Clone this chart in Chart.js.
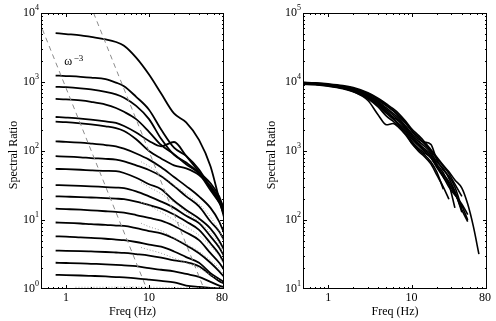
<!DOCTYPE html>
<html>
<head>
<meta charset="utf-8">
<script src="https://cdn.jsdelivr.net/npm/chart.js@4"></script>
<style>
  body { margin: 0; background: #fff; }
  #wrap { position: relative; width: 496px; height: 321px; }
  canvas { position: absolute; top: 0; }
</style>
</head>
<body>
<div id="wrap">
  <canvas id="leftChart" width="248" height="321" style="left:0"></canvas>
  <canvas id="rightChart" width="248" height="321" style="left:248px"></canvas>
</div>
<script>
// ---- left panel: spectral ratios, stacked ----
const leftFreq = [0.75, 1, 1.5, 2, 3, 4, 5, 7, 10, 14, 20, 28, 40, 55, 70, 80];
const leftCurves = [
  [5100, 4950, 4750, 4500, 4150, 3800, 3350, 2250, 1280, 680, 350, 260, 145, 60, 20, 11],
  [1240, 1220, 1190, 1160, 1100, 980, 870, 610, 397, 205, 112, 85, 54, 29, 18, 12],
  [850, 840, 810, 780, 720, 660, 590, 450, 290, 150, 88, 68, 48, 30, 20, 15],
  [568, 560, 540, 515, 470, 420, 370, 290, 190, 122, 90, 64, 47, 27, 18, 14],
  [311, 305, 295, 285, 268, 255, 230, 185, 140, 117, 135, 85, 50, 34, 22, 14],
  [266, 262, 252, 243, 228, 215, 195, 148, 100, 78, 62, 56, 45, 31, 20, 12],
  [138, 136, 132, 128, 122, 117, 108, 92, 75, 58, 42, 31, 22, 15, 9.5, 6.5],
  [84, 83, 81, 79, 77, 75, 71, 62, 53, 43, 31, 22, 15.7, 9.5, 6.8, 5.1],
  [55, 54.5, 53.5, 52.5, 51.5, 51, 48, 41, 33, 28, 19, 14, 10.5, 7.5, 5, 3.7],
  [32, 31.8, 31.3, 30.8, 30, 29.5, 29, 26, 22, 18.5, 15, 11.5, 9, 5.8, 4, 3],
  [22, 21.8, 21.5, 21.2, 20.8, 20.4, 20, 18.5, 16.5, 14.6, 12, 9.5, 7.2, 4.6, 3.2, 2.4],
  [14.6, 14.4, 14.1, 13.8, 13.4, 13.1, 12.8, 11.8, 10.7, 9.8, 8.2, 6.6, 5.1, 3.3, 2.4, 1.9],
  [9.2, 9.1, 8.9, 8.7, 8.5, 8.3, 8.2, 7.6, 6.9, 6.4, 5.4, 4.3, 3.3, 2.4, 1.8, 1.5],
  [5.8, 5.75, 5.6, 5.5, 5.35, 5.2, 5.1, 4.8, 4.4, 4.1, 3.5, 2.9, 2.4, 1.7, 1.4, 1.26],
  [3.6, 3.58, 3.54, 3.5, 3.44, 3.38, 3.33, 3.2, 3.05, 2.85, 2.6, 2.45, 2.14, 1.6, 1.3, 1.2],
  [2.4, 2.38, 2.35, 2.32, 2.28, 2.24, 2.2, 2.14, 2.0, 1.9, 1.8, 1.65, 1.5, 1.27, 1.12, 1.07],
  [1.6, 1.59, 1.57, 1.55, 1.52, 1.49, 1.47, 1.43, 1.37, 1.31, 1.25, 1.12, 1.07, 1.04, 1.02, 1.01]
];

// grey dotted noise levels
const noiseFreq = [8, 10, 14, 20, 28, 40, 55, 70, 80];
const noiseCurves = [
  [70, 60, 45, 32, 24, 17, 11, 7, 5],
  [35, 30, 24, 18, 13, 9.5, 6.5, 4.5, 3],
  [18, 16, 13, 10, 8, 6, 4.2, 3, 2.2],
  [9, 8, 7, 5.5, 4.5, 3.5, 2.6, 2, 1.6],
  [4, 3.7, 3.3, 2.8, 2.4, 2, 1.6, 1.35, 1.2]
];
const floorNoiseFreq = [1.3, 3, 6, 10, 20, 40, 80];
const floorNoise = [1.06, 1.06, 1.07, 1.06, 1.05, 1.04, 1.02];

// omega^-3 reference lines (end points)
const slopeLineA = [[0.52, 5800], [9.4, 1]];
const slopeLineB = [[2.15, 10000], [46, 1]];

// ---- right panel: corrected spectra ----
const rightFreq = [0.5, 0.7, 1, 1.5, 2, 3, 4, 5, 6, 7, 8.5, 10, 12, 14, 17, 20, 24, 28, 33, 40, 47, 55, 64];
const rightCurves = [
  [9900, 9700, 9400, 8900, 8300, 7000, 5800, 4800, 4100, 3500, 2700, 2100, 1700, 1400, 1050, 820, 620, 500, 380, 290, 170, 80, 32],
  [9700, 9500, 9200, 8600, 8000, 6600, 5400, 4500, 3800, 3200, 2500, 1950, 1500, 1350, 1250, 750, 530, 430, 300, 150],
  [9600, 9400, 9000, 8400, 7700, 6200, 5000, 4000, 3300, 2800, 2200, 1700, 1300, 1100, 900, 650, 480, 330, 150],
  [9500, 9300, 8900, 8200, 7300, 5400, 3300, 2400, 2500, 2200, 1700, 1300, 1050, 900, 700, 500, 280],
  [9400, 9200, 8800, 8100, 7400, 5900, 4500, 3500, 2900, 2500, 2000, 1500, 1200, 1000, 800, 600, 450, 360, 250, 140, 95],
  [9800, 9600, 9300, 8700, 8100, 6800, 5600, 4600, 3900, 3300, 2600, 2000, 1600, 1300, 1000, 780, 600, 470, 330, 220],
  [9300, 9100, 8700, 8000, 7200, 5700, 4300, 3200, 2700, 2300, 1800, 1300, 1000, 850, 650, 450, 300, 200],
  [9600, 9400, 9100, 8500, 7900, 6400, 5200, 4200, 3500, 3000, 2300, 1800, 1400, 1200, 950, 700, 560, 400, 260, 130],
  [9500, 9300, 9000, 8300, 7600, 6000, 4700, 3700, 3100, 2700, 2100, 1600, 1250, 1050, 850, 620, 420, 300, 230, 170, 120],
  [9700, 9500, 9100, 8500, 7800, 6300, 4900, 3800, 3000, 2400, 1900, 1400, 1100, 950, 800, 580, 420, 330, 240, 160, 100]
];

const xTickLabels = [1, 10, 80];
const leftYExp = [0, 1, 2, 3, 4];
const rightYExp = [1, 2, 3, 4, 5];

const FONT = '"Liberation Serif", "DejaVu Serif", serif';

function pts(xs, ys) {
  return ys.map((v, i) => ({ x: xs[i], y: v }));
}

function minorTicks(min, max) {
  const out = [];
  for (let d = Math.floor(Math.log10(min)); d <= Math.ceil(Math.log10(max)); d++) {
    for (let k = 1; k <= 9; k++) {
      const v = k * Math.pow(10, d);
      if (v > min && v < max) out.push({ v, major: k === 1 });
    }
  }
  return out;
}

// box, inward ticks and labels, MATLAB style
const frame = {
  id: 'frame',
  afterDraw(chart, args, opts) {
    const { ctx, chartArea: a, scales: { x, y } } = chart;
    ctx.save();
    ctx.strokeStyle = '#000';
    ctx.lineWidth = 1;
    ctx.strokeRect(a.left + 0.5, a.top + 0.5, a.width - 1, a.height - 1);

    ctx.beginPath();
    minorTicks(x.min, x.max).forEach(t => {
      const px = Math.round(x.getPixelForValue(t.v)) + 0.5;
      const len = t.major ? 4 : 2;
      ctx.moveTo(px, a.bottom); ctx.lineTo(px, a.bottom - len);
      ctx.moveTo(px, a.top); ctx.lineTo(px, a.top + len);
    });
    minorTicks(y.min, y.max).forEach(t => {
      const py = Math.round(y.getPixelForValue(t.v)) + 0.5;
      const len = t.major ? 4 : 2;
      ctx.moveTo(a.left, py); ctx.lineTo(a.left + len, py);
      ctx.moveTo(a.right, py); ctx.lineTo(a.right - len, py);
    });
    ctx.stroke();

    ctx.fillStyle = '#000';
    ctx.textBaseline = 'middle';
    ctx.textAlign = 'center';
    ctx.font = '12px ' + FONT;
    opts.xLabels.forEach(v => {
      let px = x.getPixelForValue(v);
      if (v === x.max) px -= 2;
      ctx.fillText(String(v), px, a.bottom + 9);
    });
    ctx.fillText('Freq (Hz)', (a.left + a.right) / 2, a.bottom + 23);

    opts.yExp.forEach(e => {
      const py = y.getPixelForValue(Math.pow(10, e));
      ctx.font = '8px ' + FONT;
      const ew = ctx.measureText(String(e)).width;
      ctx.textAlign = 'left';
      ctx.fillText(String(e), a.left - 2 - ew, py - 5);
      ctx.font = '12px ' + FONT;
      ctx.textAlign = 'right';
      ctx.fillText('10', a.left - 2 - ew, py);
    });

    ctx.save();
    ctx.translate(opts.titleX, (a.top + a.bottom) / 2 + 4);
    ctx.rotate(-Math.PI / 2);
    ctx.textAlign = 'center';
    ctx.font = '12px ' + FONT;
    ctx.fillText('Spectral Ratio', 0, 0);
    ctx.restore();

    if (opts.omega) {
      const ox = x.getPixelForValue(0.955);
      const oy = y.getPixelForValue(1940);
      ctx.textAlign = 'left';
      ctx.font = '12px ' + FONT;
      ctx.fillText('\u03c9', ox, oy);
      ctx.font = '9px ' + FONT;
      ctx.fillText('\u22123', ox + ctx.measureText('\u03c9').width + 3.5, oy - 4);
    }
    ctx.restore();
  }
};

const blackLine = { borderColor: '#000', borderWidth: 1.8, pointRadius: 0, fill: false, cubicInterpolationMode: 'monotone' };

const leftSets = [];
noiseCurves.forEach(c => leftSets.push({
  data: pts(noiseFreq, c), borderColor: '#9a9a9a', borderWidth: 1, borderDash: [1, 2],
  pointRadius: 0, fill: false, cubicInterpolationMode: 'monotone'
}));
leftSets.push({
  data: pts(floorNoiseFreq, floorNoise), borderColor: '#9a9a9a', borderWidth: 1, borderDash: [1, 2],
  pointRadius: 0, fill: false
});
[slopeLineA, slopeLineB].forEach(l => leftSets.push({
  data: l.map(p => ({ x: p[0], y: p[1] })), borderColor: '#8c8c8c', borderWidth: 1,
  borderDash: [5, 4], pointRadius: 0, fill: false
}));
leftCurves.forEach(c => leftSets.push(Object.assign({ data: pts(leftFreq, c) }, blackLine)));

const rightSets = rightCurves.map(c => Object.assign({ data: pts(rightFreq, c) }, blackLine, { borderWidth: 1.6 }));

function makeChart(id, datasets, yMin, yMax, padding, frameOpts) {
  return new Chart(document.getElementById(id), {
    type: 'line',
    data: { datasets },
    plugins: [frame],
    options: {
      responsive: false,
      animation: false,
      devicePixelRatio: 1,
      layout: { padding },
      scales: {
        x: { type: 'logarithmic', min: 0.5, max: 80, display: false },
        y: { type: 'logarithmic', min: yMin, max: yMax, display: false }
      },
      plugins: { legend: { display: false }, tooltip: { enabled: false }, frame: frameOpts }
    }
  });
}

makeChart('leftChart', leftSets, 1, 1e4,
  { left: 41, right: 24, top: 13, bottom: 32 },
  { xLabels: xTickLabels, yExp: leftYExp, titleX: 14, omega: true });
makeChart('rightChart', rightSets, 10, 1e5,
  { left: 55, right: 9, top: 13, bottom: 32 },
  { xLabels: xTickLabels, yExp: rightYExp, titleX: 24, omega: false });
</script>
</body>
</html>
